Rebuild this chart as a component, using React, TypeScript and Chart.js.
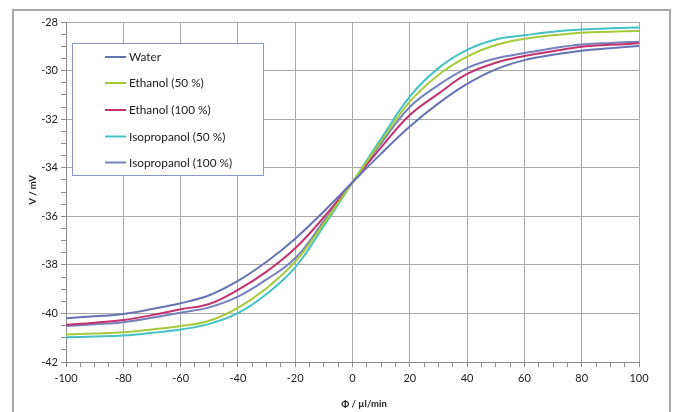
import React, { useEffect, useRef } from "react";
import { Chart, registerables } from "chart.js";

Chart.register(...registerables);

const PHI = [-100, -90, -80, -70, -60, -50, -40, -30, -20, -10, 0, 10, 20, 30, 40, 50, 60, 70, 80, 90, 100];
const WATER = [-40.2, -40.12, -40.02, -39.82, -39.58, -39.25, -38.66, -37.87, -36.92, -35.8, -34.6, -33.42, -32.3, -31.35, -30.55, -29.95, -29.57, -29.35, -29.18, -29.08, -28.99];
const ETHANOL_50 = [-40.87, -40.83, -40.78, -40.66, -40.52, -40.3, -39.77, -38.96, -37.87, -36.29, -34.6, -32.91, -31.28, -30.18, -29.43, -28.95, -28.69, -28.55, -28.44, -28.4, -28.37];
const ETHANOL_100 = [-40.47, -40.38, -40.27, -40.07, -39.83, -39.61, -39.03, -38.28, -37.32, -36.04, -34.6, -33.16, -31.83, -30.95, -30.14, -29.68, -29.4, -29.2, -29.02, -28.94, -28.88];
const ISOPROPANOL_50 = [-40.98, -40.95, -40.91, -40.8, -40.66, -40.43, -39.99, -39.2, -38.1, -36.4, -34.6, -32.8, -31.07, -29.9, -29.15, -28.72, -28.55, -28.4, -28.31, -28.26, -28.23];
const ISOPROPANOL_100 = [-40.52, -40.45, -40.36, -40.18, -39.97, -39.75, -39.31, -38.6, -37.73, -36.2, -34.6, -33.0, -31.5, -30.6, -29.9, -29.5, -29.28, -29.08, -28.93, -28.86, -28.81];

const SERIES_LABELS = ["Water", "Ethanol (50 %)", "Ethanol (100 %)", "Isopropanol (50 %)", "Isopropanol (100 %)"];
const SERIES_VALUES = [WATER, ETHANOL_50, ETHANOL_100, ISOPROPANOL_50, ISOPROPANOL_100];
const SERIES_COLORS = ["#6673b3", "#a6c93a", "#c2336e", "#45c1c3", "#7580bd"];

const X_TITLE = "Φ / µl/min";
const Y_TITLE = "V / mV";

const FONT = 'Lato, "Open Sans", sans-serif';

const decorPlugin = {
  id: "decor",
  afterDatasetsDraw(chart: any) {
    const ctx = chart.ctx;
    ctx.save();
    // legend box
    const bx = 72.5, by = 43.5, bw = 191, bh = 132;
    ctx.fillStyle = "#ffffff";
    ctx.fillRect(bx, by, bw, bh);
    ctx.strokeStyle = "#8a97c6";
    ctx.lineWidth = 1;
    ctx.strokeRect(bx, by, bw, bh);
    const rows = [57, 83, 110, 136.5, 162.5];
    ctx.font = `11.8px ${FONT}`;
    ctx.textBaseline = "middle";
    ctx.textAlign = "left";
    chart.data.datasets.forEach((ds: any, i: number) => {
      const y = rows[i];
      ctx.strokeStyle = ds.borderColor;
      ctx.lineWidth = 2;
      ctx.beginPath();
      ctx.moveTo(105, y);
      ctx.lineTo(126, y);
      ctx.stroke();
      ctx.fillStyle = "#1a1a1a";
      ctx.fillText(ds.label, 129, y + 0.5);
    });
    // axis titles
    ctx.fillStyle = "#1a1a1a";
    ctx.font = `bold 9.5px ${FONT}`;
    ctx.textAlign = "center";
    ctx.textBaseline = "middle";
    ctx.fillText(X_TITLE, 364, 404);
    ctx.translate(33, 190);
    ctx.rotate(-Math.PI / 2);
    ctx.fillText(Y_TITLE, 0, 0);
    ctx.restore();
  },
};

const isMajorY = (v: number) => Math.abs(v - Math.round(v)) < 1e-6 && Math.round(v) % 2 === 0;
const isMajorX = (v: number) => Math.abs(v / 20 - Math.round(v / 20)) < 1e-6;

export default function App() {
  const ref = useRef<HTMLCanvasElement>(null);
  useEffect(() => {
    if (!ref.current) return;
    const chart = new Chart(ref.current, {
      type: "line",
      data: {
        datasets: SERIES_LABELS.map((label, i) => ({
          label,
          data: PHI.map((x, j) => ({ x, y: SERIES_VALUES[i][j] })),
          borderColor: SERIES_COLORS[i],
          backgroundColor: SERIES_COLORS[i],
          borderWidth: 2,
          pointRadius: 0,
          tension: 0.4,
          fill: false,
        })),
      },
      options: {
        responsive: false,
        animation: false,
        layout: { padding: { left: 0, top: 22, right: 40, bottom: 0 } },
        plugins: { legend: { display: false }, tooltip: { enabled: false } },
        scales: {
          x: {
            type: "linear",
            min: -100,
            max: 100,
            afterFit: (s: any) => { s.height = 50; },
            ticks: {
              stepSize: 5,
              autoSkip: false,
              maxRotation: 0,
              padding: 5,
              color: "#1a1a1a",
              font: { family: FONT, size: 11 },
              callback: (v: any) => (isMajorX(Number(v)) ? String(Math.round(Number(v))) : ""),
            },
            grid: {
              color: (c: any) => (isMajorX(c.tick.value) ? "#a8a8a8" : "rgba(0,0,0,0)"),
              tickColor: "#8c8c8c",
              tickLength: 5,
              lineWidth: 1,
            },
            border: { color: "#8c8c8c", width: 1 },
          },
          y: {
            type: "linear",
            min: -42,
            max: -28,
            afterFit: (s: any) => { s.width = 66; },
            ticks: {
              stepSize: 0.5,
              autoSkip: false,
              padding: 3,
              color: "#1a1a1a",
              font: { family: FONT, size: 11 },
              callback: (v: any) => (isMajorY(Number(v)) ? String(Math.round(Number(v))) : ""),
            },
            grid: {
              color: (c: any) => (isMajorY(c.tick.value) ? "#a8a8a8" : "rgba(0,0,0,0)"),
              tickColor: "#8c8c8c",
              tickLength: 5,
              lineWidth: 1,
            },
            border: { color: "#8c8c8c", width: 1 },
          },
        },
      },
      plugins: [decorPlugin],
    });
    return () => chart.destroy();
  }, []);

  return (
    <div style={{ position: "fixed", left: 0, top: 0, width: 679, height: 412, background: "#fff", overflow: "hidden" }}>
      <div
        style={{
          position: "absolute",
          left: 12,
          top: 9,
          width: 659,
          height: 420,
          border: "2px solid #a9a9a9",
          boxSizing: "border-box",
        }}
      />
      <canvas ref={ref} width={679} height={412} style={{ position: "absolute", left: 0, top: 0, width: 679, height: 412 }} />
    </div>
  );
}
